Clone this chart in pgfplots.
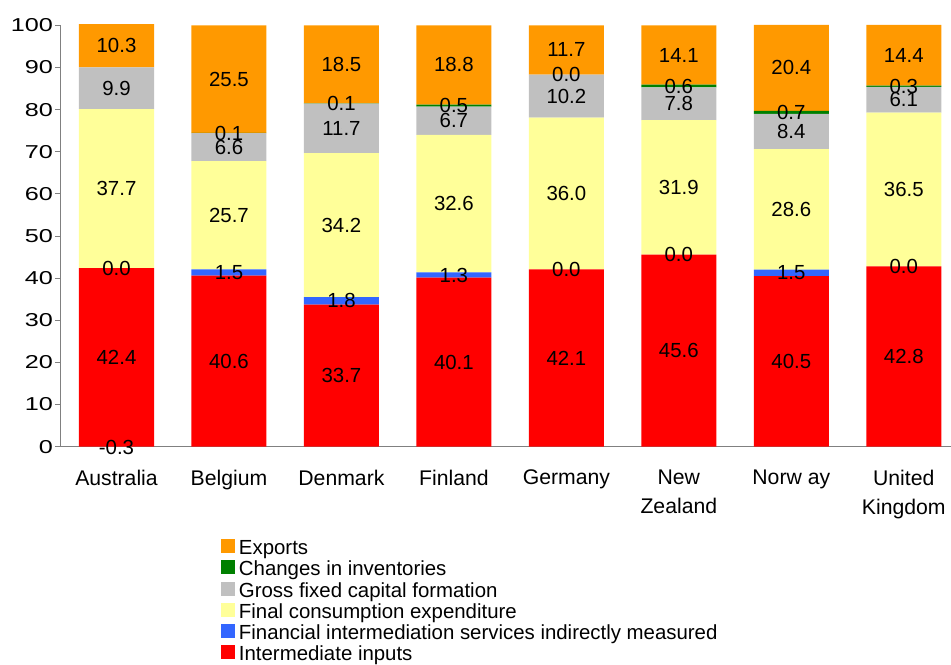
\documentclass[border=0pt]{standalone}
\usepackage{fontspec}
\setmainfont{Liberation Sans}
\usepackage{graphicx}
\usepackage{pgfplots}
\usepackage{pgfplotstable}
\pgfplotsset{compat=1.18}
\definecolor{cexp}{HTML}{FF9900}
\definecolor{cinv}{HTML}{008000}
\definecolor{cgfcf}{HTML}{C0C0C0}
\definecolor{cfce}{HTML}{FFFF99}
\definecolor{cfisim}{HTML}{3366FF}
\definecolor{cii}{HTML}{FF0000}
\definecolor{caxis}{HTML}{808080}

% stacked values (negative Australian inventory change stacked separately, below 0)
\pgfplotstableread{
x  ii   fisim fce  gfcf inv  exp
0  42.4 0.0   37.7 9.9  0.0  10.3
1  40.6 1.5   25.7 6.6  0.1  25.5
2  33.7 1.8   34.2 11.7 0.1  18.5
3  40.1 1.3   32.6 6.7  0.5  18.8
4  42.1 0.0   36.0 10.2 0.0  11.7
5  45.6 0.0   31.9 7.8  0.6  14.1
6  40.5 1.5   28.6 8.4  0.7  20.4
7  42.8 0.0   36.5 6.1  0.3  14.4
}\stacked

% data labels: position (segment centre) and value
\pgfplotstableread{
x y v
0 21.2 42.4
0 42.4 0.0
0 61.25 37.7
0 85.05 9.9
0 95.15 10.3
0 -0.15 -0.3
1 20.3 40.6
1 41.35 1.5
1 54.95 25.7
1 71.1 6.6
1 74.45 0.1
1 87.25 25.5
2 16.85 33.7
2 34.6 1.8
2 52.6 34.2
2 75.55 11.7
2 81.45 0.1
2 90.75 18.5
3 20.05 40.1
3 40.75 1.3
3 57.7 32.6
3 77.35 6.7
3 80.95 0.5
3 90.6 18.8
4 21.05 42.1
4 42.1 0.0
4 60.1 36.0
4 83.2 10.2
4 88.3 0.0
4 94.15 11.7
5 22.8 45.6
5 45.6 0.0
5 61.55 31.9
5 81.4 7.8
5 85.6 0.6
5 92.95 14.1
6 20.25 40.5
6 41.25 1.5
6 56.3 28.6
6 74.8 8.4
6 79.35 0.7
6 89.9 20.4
7 21.4 42.8
7 42.8 0.0
7 61.05 36.5
7 82.35 6.1
7 85.55 0.3
7 92.9 14.4
}\labels

\pgfplotsset{
  sqleg/.style={legend image code/.code={\fill[##1] (0pt,-2.5pt) rectangle (10.5pt,8pt);}},
  common/.style={
    at={(0,0)}, anchor=south west,
    scale only axis, width=668pt, height=316pt,
    xmin=-0.5, xmax=7.42, ymin=0, ymax=100,
  }
}

\begin{document}
\begin{tikzpicture}
\useasboundingbox (-45.2pt,-163pt) rectangle (668pt,335pt);
\begin{axis}[
  common,
  ybar stacked, bar width=0.667,
  clip=false,
  axis x line*=bottom, axis y line*=left,
  axis line style={-, caxis, line width=0.9pt},
  tick align=outside,
  major tick length=3.75pt, minor tick length=3.75pt,
  ytick={0,10,...,100},
  ytick style={caxis, line width=0.75pt},
  yticklabel style={anchor=east, inner sep=0pt, xshift=-1.5pt, font=\fontsize{14pt}{16pt}\selectfont},
  yticklabel={\scalebox{1.35}[1]{\pgfmathprintnumber{\tick}}},
  xtick={0,...,7},
  xtick style={draw=none},
  minor xtick={-0.5,0.5,...,6.5},
  minor x tick style={caxis, line width=0.75pt},
  xticklabels={Australia,Belgium,Denmark,Finland,Germany,{New\\Zealand},{Norw ay},{United\\Kingdom}},
  xticklabel style={align=center, anchor=north, inner sep=0pt, yshift=-13.5pt, font=\fontsize{15.9pt}{21.9pt}\selectfont},
  /pgf/number format/assume math mode=true,
  legend style={at={(0.1804,-0.2195)}, anchor=north west, draw=none, fill=none,
    inner sep=0pt, outer sep=0pt, row sep=0pt,
    font=\fontsize{15.3pt}{15.75pt}\selectfont,
    nodes={inner sep=0pt, text height=11.5pt, text depth=4.25pt},
    /tikz/every odd column/.append style={column sep=3pt}},
  legend cell align=left,
  reverse legend,
  every axis plot post/.append style={sqleg},
]
\addplot[fill=cii, draw=none] table[x=x, y=ii]{\stacked};
\addlegendentry{Intermediate inputs}
\addplot[fill=cfisim, draw=none] table[x=x, y=fisim]{\stacked};
\addlegendentry{Financial intermediation services indirectly measured}
\addplot[fill=cfce, draw=none] table[x=x, y=fce]{\stacked};
\addlegendentry{Final consumption expenditure}
\addplot[fill=cgfcf, draw=none] table[x=x, y=gfcf]{\stacked};
\addlegendentry{Gross fixed capital formation}
\addplot[fill=cinv, draw=none] table[x=x, y=inv]{\stacked};
\addlegendentry{Changes in inventories}
\addplot[fill=cexp, draw=none] table[x=x, y=exp]{\stacked};
\addlegendentry{Exports}
\end{axis}
\begin{axis}[
  common, hide axis, clip=false,
  /pgf/number format/.cd, fixed, fixed zerofill, precision=1, assume math mode=true,
]
\addplot[only marks, mark=*, mark size=0pt, mark options={draw=none, fill=none},
  point meta=explicit, nodes near coords, nodes near coords align={center},
  every node near coord/.append style={font=\fontsize{15.3pt}{17pt}\selectfont, inner sep=0pt, text=black}]
  table[x=x, y=y, meta=v]{\labels};
\end{axis}
\end{tikzpicture}
\end{document}
